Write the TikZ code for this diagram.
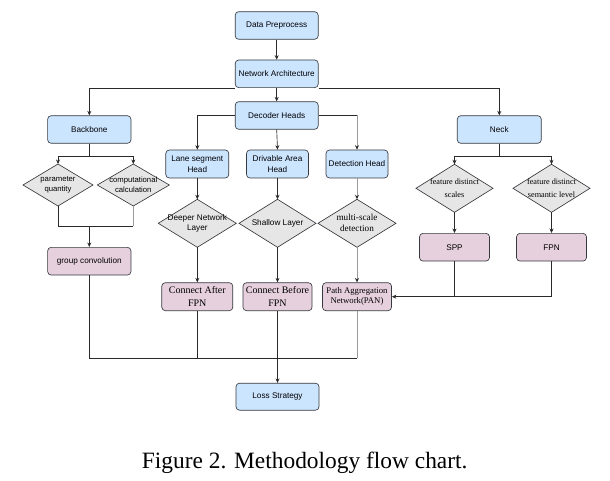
\documentclass[tikz,border=0pt]{standalone}
\usepackage{fontspec}
\setmainfont{Liberation Serif}
\setsansfont{Liberation Sans}
\usetikzlibrary{shapes.geometric,arrows.meta}
\definecolor{bluef}{HTML}{CCE5FF}
\definecolor{pinkf}{HTML}{E6D0DE}
\definecolor{grayf}{HTML}{E6E6E6}
\definecolor{strk}{HTML}{36393D}
\definecolor{lnk}{HTML}{2A2A2A}
\definecolor{lng}{HTML}{9A9A9A}
\tikzset{
  box/.style={draw=strk, line width=0.65pt, rounded corners=3.5pt, inner sep=0pt, align=center,
    font=\sffamily\fontsize{8.2}{10.5}\selectfont},
  bbox/.style={box, fill=bluef},
  pbox/.style={box, fill=pinkf},
  serifbox/.style={font=\rmfamily\fontsize{10}{13.3}\selectfont},
  dia/.style={diamond, draw=strk, fill=grayf, line width=0.65pt, inner sep=0pt, outer sep=0pt},
  dsans/.style={align=center, inner sep=0pt, font=\sffamily\fontsize{8.2}{10.5}\selectfont},
  dsmall/.style={align=center, inner sep=0pt, font=\sffamily\fontsize{7.7}{10}\selectfont},
  dserif/.style={align=center, inner sep=0pt, font=\rmfamily\fontsize{8.2}{12.8}\selectfont},
  ln/.style={draw=lnk, line width=0.65pt},
  lngray/.style={draw=lng, line width=0.75pt},
  tip/.style={-{Stealth[length=4.5pt,width=4pt,color=lnk]}},
}
\begin{document}
\begin{tikzpicture}[x=1pt,y=-1pt]
\useasboundingbox (0,0) rectangle (610,481);

% top column
\node[bbox, minimum width=83pt, minimum height=27.6pt] (DP) at (276.7,25.5) {Data Preprocess};
\node[bbox, minimum width=83pt, minimum height=27.6pt] (NA) at (276.7,73.8) {Network Architecture};
\node[bbox, minimum width=83pt, minimum height=27.6pt] (DH) at (276.7,115.5) {Decoder Heads};
\node[bbox, minimum width=83.3pt, minimum height=27.6pt] (BB) at (89.3,129.5) {Backbone};
\node[bbox, minimum width=84pt, minimum height=27.6pt] (NK) at (499.3,129.5) {Neck};

% heads
\node[bbox, minimum width=63pt, minimum height=28pt] (LH) at (197.3,164) {Lane segment\\Head};
\node[bbox, minimum width=62pt, minimum height=28pt] (DA) at (277.5,164) {Drivable Area\\Head};
\node[bbox, minimum width=62pt, minimum height=28pt] (DT) at (357,164) {Detection Head};

% diamonds
\node[dia, minimum width=70pt, minimum height=42pt,
  label={[dsmall]center:{parameter\\quantity}}] (PQ) at (58,185) {};
\node[dia, minimum width=72pt, minimum height=42pt,
  label={[dsmall]center:{computational\\calculation}}] (CC) at (133.3,185) {};
\node[dia, minimum width=78pt, minimum height=48pt,
  label={[dsans]center:{Deeper Network\\Layer}}] (DN) at (197.3,223.3) {};
\node[dia, minimum width=77pt, minimum height=48pt,
  label={[dsans]center:{Shallow Layer}}] (SL) at (277.5,223.3) {};
\node[dia, minimum width=78pt, minimum height=48pt,
  label={[dserif, font=\rmfamily\fontsize{9.2}{11}\selectfont]center:{multi-scale\\detection}}] (MS) at (357,223.3) {};
\node[dia, minimum width=77pt, minimum height=48pt,
  label={[dserif]center:{feature distinct\\scales}}] (FS) at (454.5,188.3) {};
\node[dia, minimum width=77pt, minimum height=48pt,
  label={[dserif]center:{feature distinct\\semantic level}}] (FL) at (551.5,188.3) {};

% pink boxes
\node[pbox, minimum width=83.3pt, minimum height=27.7pt] (GC) at (89.3,261.2) {group convolution};
\node[pbox, minimum width=70pt, minimum height=27.7pt] (SP) at (454.5,247.2) {SPP};
\node[pbox, minimum width=70pt, minimum height=27.7pt] (FP) at (551.5,247.2) {FPN};
\node[pbox, serifbox, minimum width=71pt, minimum height=28pt] (CA) at (197.3,296.7) {Connect After\\FPN};
\node[pbox, serifbox, minimum width=69pt, minimum height=28pt] (CB) at (277.5,296.7) {Connect Before\\FPN};
\node[pbox, minimum width=69pt, minimum height=28pt,
  font=\rmfamily\fontsize{8.7}{10}\selectfont] (PN) at (357,296.7) {Path Aggregation\\Network(PAN)};

\node[bbox, minimum width=83pt, minimum height=27pt] (LS) at (277.5,396.7) {Loss Strategy};

% caption
\node[inner sep=0pt, font=\rmfamily\fontsize{23.4}{28}\selectfont] (CAP) at (304.7,463) {Figure 2. Methodology flow chart.};

% connectors: top
\draw[ln, tip] (DP.south) -- (NA.north);
\draw[ln, tip] (NA.south) -- (DH.north);
\draw[ln, tip] (NA.south west) -| (BB.north);
\draw[ln, tip] (NA.south east) -| (NK.north);
\draw[ln, tip] (DH.west) -| (LH.north);
\draw[ln, tip] (DH.south) -- (DA.north);
\draw[ln] (DH.east) -- (DH.east -| DT.north);
\draw[lngray, tip] (DH.east -| DT.north) -- (DT.north);

% backbone branch
\coordinate (BJ) at (89.3,156.7);
\draw[ln] (BB.south) -- (BJ);
\draw[ln, tip] (BJ) -| (PQ.north);
\draw[ln, tip] (BJ) -| (CC.north);
\coordinate (GJ) at (89.3,226);
\draw[ln] (PQ.south) |- (GJ);
\draw[lngray] (CC.south) -- (CC.south |- GJ);
\draw[ln] (CC.south |- GJ) -- (GJ);
\draw[ln, tip] (GJ) -- (GC.north);

% heads chains
\draw[ln, tip] (LH.south) -- (DN.north);
\draw[ln, tip] (DN.south) -- (CA.north);
\draw[ln, tip] (DA.south) -- (SL.north);
\draw[ln, tip] (SL.south) -- (CB.north);
\draw[lngray, tip] (DT.south) -- (MS.north);
\draw[lngray, tip] (MS.south) -- (PN.north);

% neck branch
\coordinate (NJ) at (499.3,156.7);
\draw[ln] (NK.south) -- (NJ);
\draw[ln, tip] (NJ) -| (FS.north);
\draw[ln, tip] (NJ) -| (FL.north);
\draw[ln, tip] (FS.south) -- (SP.north);
\draw[ln, tip] (FL.south) -- (FP.north);
\draw[ln, tip] (FP.south) |- (PN.east);
\draw[ln] (SP.south) -- (SP.south |- PN.east);

% bottom join
\coordinate (LJ) at (277.5,358.3);
\draw[ln] (GC.south) |- (LJ);
\draw[ln] (CA.south) -- (CA.south |- LJ);
\draw[lngray] (PN.south) -- (PN.south |- LJ);
\draw[ln] (PN.south |- LJ) -- (LJ);
\draw[ln, tip] (CB.south) -- (LS.north);
\end{tikzpicture}
\end{document}
